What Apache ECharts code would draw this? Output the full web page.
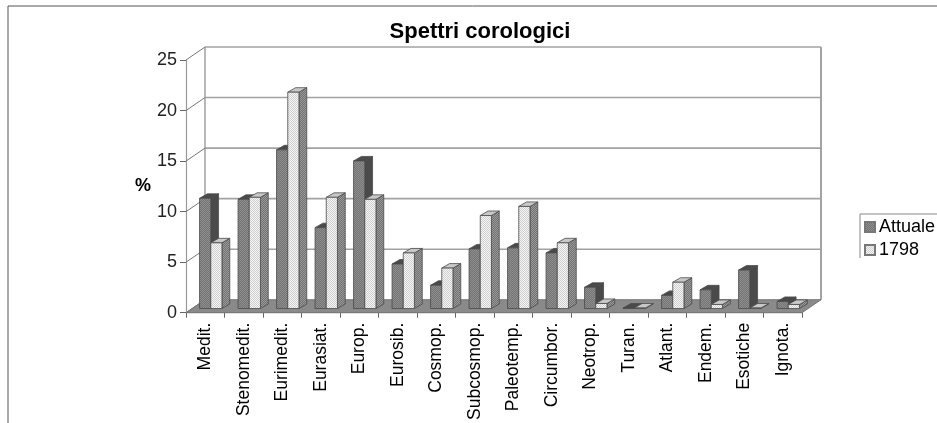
<!DOCTYPE html>
<html>
<head>
<meta charset="utf-8">
<title>Spettri corologici</title>
<script src="https://cdn.jsdelivr.net/npm/echarts@6/dist/echarts.min.js"></script>
<style>
html, body { margin: 0; padding: 0; background: #fff; }
#chart { width: 937px; height: 423px; }
</style>
</head>
<body>
<div id="chart"></div>
<script>
var categories = ['Medit.', 'Stenomedit.', 'Eurimedit.', 'Eurasiat.', 'Europ.', 'Eurosib.', 'Cosmop.', 'Subcosmop.', 'Paleotemp.', 'Circumbor.', 'Neotrop.', 'Turan.', 'Atlant.', 'Endem.', 'Esotiche', 'Ignota.']
var attuale = [10.9, 10.8, 15.7, 8.0, 14.6, 4.4, 2.3, 5.9, 6.0, 5.5, 2.1, 0.05, 1.3, 1.85, 3.8, 0.7]
var anno1798 = [6.5, 11.0, 21.4, 11.0, 10.8, 5.5, 4.0, 9.2, 10.1, 6.5, 0.5, 0.05, 2.6, 0.4, 0.05, 0.4]
var yTicks = [0, 5, 10, 15, 20, 25]

var FONT = '"Liberation Sans", Arial, sans-serif'
// profondita dello pseudo 3D, in pixel
var WALL_DX = 19, WALL_DY = 13
var BAR_W = 11.2, BAR_DX = 7.8, BAR_DY = 4.5
var BAR_SHIFT_X = 5.5, BAR_SHIFT_Y = 4.2

function dither(c1, c2) {
  var cv = document.createElement('canvas')
  cv.width = 2
  cv.height = 2
  var ctx = cv.getContext('2d')
  ctx.fillStyle = c1
  ctx.fillRect(0, 0, 2, 2)
  ctx.fillStyle = c2
  ctx.fillRect(0, 0, 1, 1)
  ctx.fillRect(1, 1, 1, 1)
  return { image: cv, repeat: 'repeat' }
}

var fillA = dither('#747474', '#8e8e8e')
var fillB = dither('#f6f6f6', '#cecece')
var sideB = dither('#727272', '#989898')

function renderWall(params, api) {
  var sys = params.coordSys
  var y = api.coord([0, api.value(1)])[1]
  var x0 = sys.x, x1 = sys.x + sys.width
  var children = []
  if (params.dataIndex === 0) {
    children.push({
      type: 'polygon',
      shape: { points: [[x0, y], [x1, y], [x1 + WALL_DX, y - WALL_DY], [x0 + WALL_DX, y - WALL_DY]] },
      style: { fill: '#8a8a8a', stroke: '#777', lineWidth: 1 }
    })
    children.push({
      type: 'line',
      shape: { x1: x0 + WALL_DX, y1: sys.y - WALL_DY, x2: x0 + WALL_DX, y2: y - WALL_DY },
      style: { stroke: '#a0a0a0', lineWidth: 1.5 }
    })
    children.push({
      type: 'line',
      shape: { x1: x1 + WALL_DX, y1: sys.y - WALL_DY, x2: x1 + WALL_DX, y2: y - WALL_DY },
      style: { stroke: '#666', lineWidth: 1.2 }
    })
  } else {
    children.push({
      type: 'line',
      shape: { x1: x0 + WALL_DX, y1: y - WALL_DY, x2: x1 + WALL_DX, y2: y - WALL_DY },
      style: { stroke: '#a2a2a2', lineWidth: 1.6 }
    })
  }
  children.push({
    type: 'line',
    shape: { x1: x0, y1: y, x2: x0 + WALL_DX, y2: y - WALL_DY },
    style: { stroke: '#777', lineWidth: 1 }
  })
  return { type: 'group', children: children }
}

function makeBar(offset, front, side, top) {
  return function (params, api) {
    var p = api.coord([api.value(0), api.value(1)])
    var base = api.coord([api.value(0), 0])
    var x = p[0] + BAR_SHIFT_X + offset * BAR_W
    var yTop = p[1] - BAR_SHIFT_Y
    var yBase = base[1] - BAR_SHIFT_Y
    var line = { stroke: '#4a4a4a', lineWidth: 0.8 }
    return {
      type: 'group',
      children: [
        {
          type: 'polygon',
          shape: { points: [[x + BAR_W, yTop], [x + BAR_W + BAR_DX, yTop - BAR_DY], [x + BAR_W + BAR_DX, yBase - BAR_DY], [x + BAR_W, yBase]] },
          style: Object.assign({ fill: side }, line)
        },
        {
          type: 'polygon',
          shape: { points: [[x, yTop], [x + BAR_DX, yTop - BAR_DY], [x + BAR_W + BAR_DX, yTop - BAR_DY], [x + BAR_W, yTop]] },
          style: Object.assign({ fill: top }, line)
        },
        {
          type: 'rect',
          shape: { x: x, y: yTop, width: BAR_W, height: yBase - yTop },
          style: Object.assign({ fill: front }, line)
        }
      ]
    }
  }
}

var myChart = echarts.init(document.getElementById('chart'), null, { renderer: 'canvas' })

var option = {
  animation: false,
  backgroundColor: '#fff',
  textStyle: { fontFamily: FONT },
  title: {
    text: 'Spettri corologici',
    left: 475,
    top: 16,
    textAlign: 'center',
    textStyle: { fontFamily: FONT, fontSize: 22, fontWeight: 'bold', color: '#000' }
  },
  grid: { left: 186, top: 60, width: 616, height: 253, containLabel: false },
  legend: {
    data: ['Attuale', '1798'],
    left: 864,
    top: 218,
    orient: 'vertical',
    icon: 'rect',
    itemWidth: 10,
    itemHeight: 10,
    itemGap: 5,
    padding: 0,
    selectedMode: false,
    textStyle: { fontFamily: FONT, fontSize: 18, color: '#000', padding: [0, 0, 0, -1] }
  },
  xAxis: {
    type: 'category',
    data: categories,
    axisLine: { lineStyle: { color: '#666', width: 1 } },
    axisTick: { show: true, length: 5, lineStyle: { color: '#666' } },
    axisLabel: { rotate: 90, interval: 0, margin: 10, fontFamily: FONT, fontSize: 17.5, color: '#000' }
  },
  yAxis: {
    type: 'value',
    min: 0,
    max: 25,
    interval: 5,
    name: '%',
    nameLocation: 'middle',
    nameRotate: 0,
    nameGap: 35,
    nameTextStyle: { fontFamily: FONT, fontSize: 18, fontWeight: 'bold', color: '#000', padding: [4, 0, 0, 0] },
    axisLine: { show: true, lineStyle: { color: '#999', width: 1.2 } },
    axisTick: { show: true, length: 6, lineStyle: { color: '#666' } },
    axisLabel: { margin: 9, fontFamily: FONT, fontSize: 18, color: '#222' },
    splitLine: { show: false }
  },
  graphic: [
    { type: 'line', silent: true, shape: { x1: 8, y1: 6, x2: 937, y2: 6 }, style: { stroke: '#555', lineWidth: 1 } },
    { type: 'line', silent: true, shape: { x1: 8, y1: 6, x2: 8, y2: 423 }, style: { stroke: '#555', lineWidth: 1 } },
    { type: 'line', silent: true, shape: { x1: 860, y1: 214, x2: 937, y2: 214 }, style: { stroke: '#888', lineWidth: 1 } },
    { type: 'line', silent: true, shape: { x1: 860, y1: 214, x2: 860, y2: 258 }, style: { stroke: '#888', lineWidth: 1 } }
  ],
  series: [
    {
      name: 'pareti',
      type: 'custom',
      z: 1,
      clip: false,
      silent: true,
      renderItem: renderWall,
      data: yTicks.map(function (v) { return [0, v] })
    },
    {
      name: 'Attuale',
      type: 'custom',
      z: 2,
      clip: false,
      itemStyle: { color: fillA, borderColor: '#777', borderWidth: 0.6 },
      renderItem: makeBar(-1, fillA, '#4a4a4a', '#4a4a4a'),
      data: attuale.map(function (v, i) { return [i, v] })
    },
    {
      name: '1798',
      type: 'custom',
      z: 3,
      clip: false,
      itemStyle: { color: fillB, borderColor: '#777', borderWidth: 0.6 },
      renderItem: makeBar(0, fillB, sideB, '#c8c8c8'),
      data: anno1798.map(function (v, i) { return [i, v] })
    }
  ]
}

myChart.setOption(option)
window.addEventListener('resize', function () { myChart.resize() })
</script>
</body>
</html>
